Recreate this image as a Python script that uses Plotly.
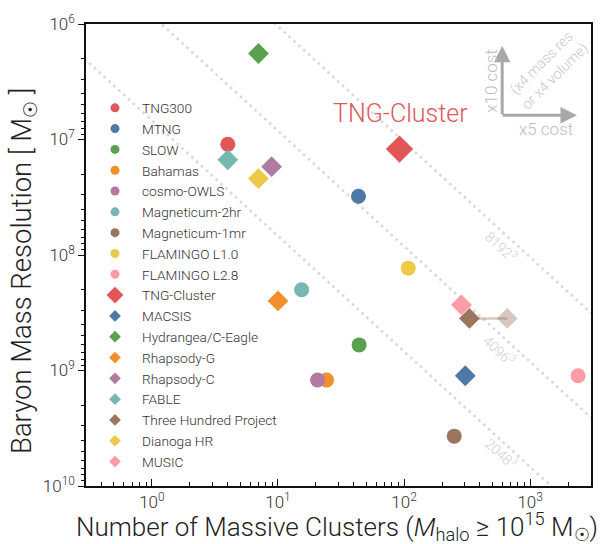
import numpy as np
import plotly.graph_objects as go

# ---------------- data ----------------
circle_names = ["TNG300", "MTNG", "SLOW", "Bahamas", "cosmo-OWLS",
                "Magneticum-2hr", "Magneticum-1mr", "FLAMINGO L1.0", "FLAMINGO L2.8"]
circle_x = [4.0, 43.5, 44, 24.3, 20.6, 15.4, 250, 108, 2400]
circle_y = [1.1e7, 3.1e7, 6.0e8, 1.21e9, 1.21e9, 2.0e8, 3.7e9, 1.3e8, 1.11e9]

diamond_names = ["TNG-Cluster", "MACSIS", "Hydrangea/C-Eagle", "Rhapsody-G", "Rhapsody-C",
                 "FABLE", "Three Hundred Project", "Dianoga HR", "MUSIC"]
diamond_x = [92, 306, 7.0, 10, 8.9, 4.0, 330, 7.0, 285]
diamond_y = [1.21e7, 1.11e9, 1.8e6, 2.5e8, 1.72e7, 1.5e7, 3.54e8, 2.18e7, 2.7e8]

# Three Hundred Project extended sample (faded)
thp_ext_x = [330, 659]
thp_ext_y = [3.54e8, 3.54e8]

colors = ["#e15759", "#4e79a7", "#59a14f", "#f28e2b", "#b07aa1",
          "#76b7b2", "#9c755f", "#edc948", "#ff9da7"]

# constant-particle-number lines: log10(M) = log10(C) + log10(N)
line_labels = ["2048<sup>3</sup>", "4096<sup>3</sup>", "8192<sup>3</sup>"]
line_logC = [6.835, 5.925, 5.02]

x_tickvals = [1, 10, 100, 1000]
x_ticktext = ["10<sup>0</sup>", "10<sup>1</sup>", "10<sup>2</sup>", "10<sup>3</sup>"]
y_tickvals = [1e6, 1e7, 1e8, 1e9, 1e10]
y_ticktext = ["10<sup>6</sup>", "10<sup>7</sup>", "10<sup>8</sup>", "10<sup>9</sup>", "10<sup>10</sup>"]

x_range = [np.log10(0.3), np.log10(3040)]
y_range = [10, 6]

FONT = "Roboto"
fig = go.Figure()

# dotted diagonal lines
xl = np.array([0.1, 1e4])
for lc in line_logC:
    fig.add_trace(go.Scatter(x=xl, y=10 ** lc * xl, mode="lines",
                             line=dict(color="#d9d9d9", width=2.6, dash="2.6px,4px"),
                             showlegend=False, hoverinfo="skip"))

# circles (data)
for n, x, y, c in zip(circle_names, circle_x, circle_y, colors):
    fig.add_trace(go.Scatter(x=[x], y=[y], mode="markers", showlegend=False,
                             marker=dict(symbol="circle", size=15, color=c, line=dict(width=0))))

# faded Three Hundred extension
fig.add_trace(go.Scatter(x=thp_ext_x, y=thp_ext_y, mode="lines",
                         line=dict(color="rgba(156,117,95,0.4)", width=2.5),
                         showlegend=False, hoverinfo="skip"))
fig.add_trace(go.Scatter(x=[thp_ext_x[1]], y=[thp_ext_y[1]], mode="markers", showlegend=False,
                         marker=dict(symbol="diamond", size=16, color="rgba(156,117,95,0.4)",
                                     line=dict(width=0))))

# diamonds (data) - MUSIC drawn before Three Hundred
order = [0, 1, 2, 3, 4, 5, 8, 6, 7]
for i in order:
    s = 21 if diamond_names[i] == "TNG-Cluster" else 16
    fig.add_trace(go.Scatter(x=[diamond_x[i]], y=[diamond_y[i]], mode="markers", showlegend=False,
                             marker=dict(symbol="diamond", size=s, color=colors[i],
                                         line=dict(width=0))))

# legend entries
for n, c in zip(circle_names, colors):
    fig.add_trace(go.Scatter(x=[None], y=[None], mode="markers", name=n,
                             marker=dict(symbol="circle", size=9, color=c, line=dict(width=0))))
for n, c in zip(diamond_names, colors):
    s = 13 if n == "TNG-Cluster" else 9
    fig.add_trace(go.Scatter(x=[None], y=[None], mode="markers", name=n,
                             marker=dict(symbol="diamond", size=s, color=c, line=dict(width=0))))

W, H, L, T = 506, 466, 86, 20
def px(x):
    return (x - L) / W
def py(y):
    return (T + H - y) / H

ann = []
# line labels
for lab, (cx, cy) in zip(line_labels, [(502, 453), (500, 349), (502, 244)]):
    ann.append(dict(text=lab, x=px(cx), y=py(cy), xref="paper", yref="paper",
                    showarrow=False, textangle=43, xanchor="center", yanchor="middle",
                    font=dict(family=FONT, size=14, color="#d0d0d0", weight=300)))
# TNG-Cluster label
ann.append(dict(text="TNG-Cluster", x=px(401), y=py(110), xref="paper", yref="paper",
                showarrow=False, xanchor="center", yanchor="middle",
                font=dict(family=FONT, size=25, color="#e15759", weight=300)))
# cost arrows
ann.append(dict(text="", x=px(503), y=py(42), xref="paper", yref="paper",
                showarrow=True, ax=0, ay=70, arrowhead=2, arrowsize=1.1,
                arrowwidth=3, arrowcolor="#a8a8a8"))
ann.append(dict(text="", x=px(578), y=py(112), xref="paper", yref="paper",
                showarrow=True, ax=-76, ay=0, arrowhead=2, arrowsize=1.1,
                arrowwidth=3, arrowcolor="#a8a8a8"))
ann.append(dict(text="x10 cost", x=px(491), y=py(77), xref="paper", yref="paper",
                showarrow=False, textangle=-90, xanchor="center", yanchor="middle",
                font=dict(family=FONT, size=17, color="#bdbdbd", weight=300)))
ann.append(dict(text="x5 cost", x=px(547), y=py(126), xref="paper", yref="paper",
                showarrow=False, xanchor="center", yanchor="middle",
                font=dict(family=FONT, size=17, color="#bdbdbd", weight=300)))
ann.append(dict(text="(x4 mass res<br>or x4 volume)", x=px(549), y=py(66), xref="paper", yref="paper",
                showarrow=False, textangle=-45, xanchor="center", yanchor="middle",
                font=dict(family=FONT, size=14.5, color="#c8c8c8", weight=300)))
# axis titles
ann.append(dict(text="Baryon Mass Resolution [ M<sub>☉</sub> ]", x=px(24), y=py(269),
                xref="paper", yref="paper", showarrow=False, textangle=-90,
                xanchor="center", yanchor="middle",
                font=dict(family=FONT, size=27.5, color="#222", weight=300)))
ann.append(dict(text="Number of Massive Clusters (<i>M</i><sub>halo</sub> ≥ 10<sup>15</sup> M<sub>☉</sub>)",
                x=px(337), y=py(527), xref="paper", yref="paper", showarrow=False,
                xanchor="center", yanchor="middle",
                font=dict(family=FONT, size=26, color="#222", weight=300)))

axis_common = dict(type="log", showgrid=False, zeroline=False, showline=True,
                   linecolor="#111", linewidth=1.5, mirror=True, tickwidth=1,
                   tickcolor="#111",
                   tickfont=dict(family=FONT, size=17, color="#333", weight=300))

fig.update_layout(
    width=605, height=544,
    margin=dict(l=L, r=605 - L - W, t=T, b=544 - T - H),
    paper_bgcolor="white", plot_bgcolor="white",
    font=dict(family=FONT, size=16, color="#333", weight=300),
    annotations=ann,
    legend=dict(x=px(88), y=py(89), xanchor="left", yanchor="top",
                bgcolor="rgba(0,0,0,0)", itemwidth=44,
                font=dict(family=FONT, size=13.7, color="#333", weight=300)),
    xaxis=dict(**axis_common, range=x_range, tickvals=x_tickvals, ticktext=x_ticktext,
               ticks="inside", ticklen=7,
               minor=dict(ticks="inside", ticklen=4, tickcolor="#111", dtick="D1",
                          showgrid=False)),
    yaxis=dict(**axis_common, range=y_range, tickvals=y_tickvals, ticktext=y_ticktext,
               ticks="outside", ticklen=6,
               minor=dict(ticks="outside", ticklen=3, tickcolor="#111", dtick="D1",
                          showgrid=False)),
)

fig.write_html("out.html")
